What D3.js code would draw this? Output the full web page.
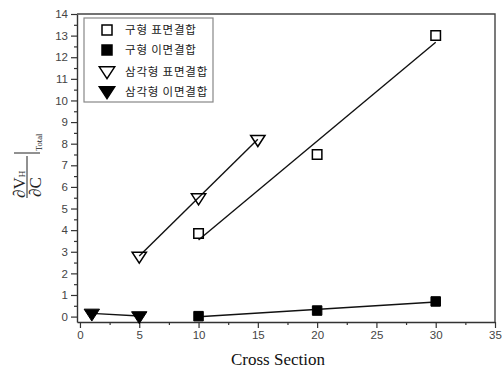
<!DOCTYPE html>
<html>
<head>
<meta charset="utf-8">
<script src="https://cdn.jsdelivr.net/npm/d3@7"></script>
<style>
  body { margin: 0; background: #fff; }
</style>
</head>
<body>
<div id="wrapper"></div>
<script>
// data
const seriesNames = ["구형 표면결합", "구형 이면결합", "삼각형 표면결합", "삼각형 이면결합"];
const squareOpenX = [10, 20, 30];
const squareOpenY = [3.85, 7.5, 13];
const squareFillX = [10, 20, 30];
const squareFillY = [0.02, 0.28, 0.7];
const triOpenX = [5, 10, 15];
const triOpenY = [2.8, 5.5, 8.2];
const triFillX = [1, 5];
const triFillY = [0.15, 0.03];
const xTicks = [0, 5, 10, 15, 20, 25, 30, 35];
const yTicks = d3.range(0, 15);

function drawChart() {
  const dimensions = {
    width: 502,
    height: 370,
    margin: { top: 14, right: 7, bottom: 48, left: 77 },
  };
  dimensions.boundedWidth = dimensions.width - dimensions.margin.left - dimensions.margin.right;
  dimensions.boundedHeight = dimensions.height - dimensions.margin.top - dimensions.margin.bottom;

  const svg = d3.select("#wrapper").append("svg")
    .attr("width", dimensions.width)
    .attr("height", dimensions.height);

  const bounds = svg.append("g")
    .attr("transform", `translate(${dimensions.margin.left},${dimensions.margin.top})`);

  const xScale = d3.scaleLinear().domain([-0.25, 35]).range([0, dimensions.boundedWidth]);
  const yScale = d3.scaleLinear().domain([-0.25, 14]).range([dimensions.boundedHeight, 0]);

  const series = [
    { name: seriesNames[0], xs: squareOpenX, ys: squareOpenY, shape: "square", filled: false },
    { name: seriesNames[1], xs: squareFillX, ys: squareFillY, shape: "square", filled: true },
    { name: seriesNames[2], xs: triOpenX, ys: triOpenY, shape: "tri", filled: false },
    { name: seriesNames[3], xs: triFillX, ys: triFillY, shape: "tri", filled: true },
  ];

  // axes
  const axisColor = "#333";
  bounds.append("g")
    .attr("transform", `translate(0,${dimensions.boundedHeight})`)
    .call(d3.axisBottom(xScale).tickValues(xTicks).tickSize(6).tickSizeOuter(0));
  bounds.append("g")
    .attr("transform", `translate(0,${dimensions.boundedHeight})`)
    .call(d3.axisBottom(xScale).tickValues(d3.range(2.5, 35, 5)).tickSize(3).tickFormat("").tickSizeOuter(0))
    .select(".domain").remove();
  bounds.append("g")
    .call(d3.axisLeft(yScale).tickValues(yTicks).tickSize(6).tickSizeOuter(0));
  bounds.append("g")
    .call(d3.axisLeft(yScale).tickValues(d3.range(0.5, 14, 1)).tickSize(3).tickFormat("").tickSizeOuter(0))
    .select(".domain").remove();

  bounds.selectAll(".tick line").attr("stroke", axisColor).attr("stroke-width", 1.2);
  bounds.selectAll(".domain").attr("stroke", axisColor).attr("stroke-width", 1.4);
  bounds.selectAll(".tick text")
    .attr("fill", "#444")
    .style("font-family", "'Liberation Sans', Arial, sans-serif")
    .style("font-size", "11.5px");

  // frame top/right
  bounds.append("path")
    .attr("d", `M0,0H${dimensions.boundedWidth}V${dimensions.boundedHeight}`)
    .attr("fill", "none")
    .attr("stroke", "#444")
    .attr("stroke-width", 1.4);

  // fit lines (least squares)
  series.forEach((s) => {
    const n = s.xs.length;
    const mx = d3.mean(s.xs), my = d3.mean(s.ys);
    let num = 0, den = 0;
    for (let i = 0; i < n; i++) {
      num += (s.xs[i] - mx) * (s.ys[i] - my);
      den += (s.xs[i] - mx) ** 2;
    }
    const slope = num / den;
    const icpt = my - slope * mx;
    const x0 = d3.min(s.xs), x1 = d3.max(s.xs);
    bounds.append("line")
      .attr("x1", xScale(x0)).attr("y1", yScale(icpt + slope * x0))
      .attr("x2", xScale(x1)).attr("y2", yScale(icpt + slope * x1))
      .attr("stroke", "#111")
      .attr("stroke-width", 1.4);
  });

  function symbolPath(shape, size) {
    if (shape === "square") {
      const h = size / 2;
      return `M${-h},${-h}H${h}V${h}H${-h}Z`;
    }
    const w = size * 0.55, up = size * 0.3, down = size * 0.55;
    return `M${-w},${-up}H${w}L0,${down}Z`;
  }

  // markers
  series.forEach((s) => {
    const size = s.shape === "square" ? 9.5 : (s.filled ? 14 : 13);
    bounds.append("g").selectAll("path")
      .data(s.xs.map((x, i) => [x, s.ys[i]]))
      .join("path")
      .attr("transform", (d) => `translate(${xScale(d[0])},${yScale(d[1])})`)
      .attr("d", symbolPath(s.shape, size))
      .attr("fill", s.filled ? "#000" : "none")
      .attr("stroke", "#000")
      .attr("stroke-width", s.filled ? 1 : 1.5);
  });

  // legend
  const legend = svg.append("g").attr("transform", "translate(84,18)");
  legend.append("rect")
    .attr("width", 129).attr("height", 84)
    .attr("fill", "#fff")
    .attr("stroke", "#888")
    .attr("stroke-width", 1.2);
  const rowY = [12, 32, 54, 74];
  series.forEach((s, i) => {
    const size = s.shape === "square" ? 10 : 14;
    legend.append("path")
      .attr("transform", `translate(23,${rowY[i] + (s.shape === "tri" ? -1 : 0)})`)
      .attr("d", symbolPath(s.shape, size))
      .attr("fill", s.filled ? "#000" : "none")
      .attr("stroke", "#000")
      .attr("stroke-width", 1.5);
    legend.append("text")
      .attr("x", 41)
      .attr("y", rowY[i] + 4)
      .attr("fill", "#222")
      .style("font-family", "'Noto Sans CJK KR', sans-serif")
      .style("font-size", "11.5px")
      .style("letter-spacing", "0.8px")
      .text(s.name);
  });

  // x label
  svg.append("text")
    .attr("x", 278)
    .attr("y", 365)
    .attr("text-anchor", "middle")
    .attr("fill", "#111")
    .style("font-family", "'Liberation Serif', 'Times New Roman', serif")
    .style("font-size", "17px")
    .text("Cross Section");

  // y label: dVH/dC |Total
  const yLab = svg.append("g")
    .attr("transform", "translate(27,177) rotate(-90)")
    .attr("fill", "#222")
    .style("font-family", "'Liberation Serif', 'Times New Roman', serif");
  const num = yLab.append("text").attr("x", -21).attr("y", -2).style("font-size", "17px");
  num.append("tspan").text("∂V");
  num.append("tspan").style("font-size", "9px").text("H");
  yLab.append("line")
    .attr("x1", -21).attr("x2", 21).attr("y1", 0).attr("y2", 0)
    .attr("stroke", "#222").attr("stroke-width", 1);
  yLab.append("text").attr("x", -20).attr("y", 14).style("font-size", "17px").text("∂C");
  yLab.append("line")
    .attr("x1", 24).attr("x2", 24).attr("y1", -13).attr("y2", 13)
    .attr("stroke", "#222").attr("stroke-width", 1);
  yLab.append("text").attr("x", 26).attr("y", 15).style("font-size", "8.5px").text("Total");
}

drawChart();
</script>
</body>
</html>
